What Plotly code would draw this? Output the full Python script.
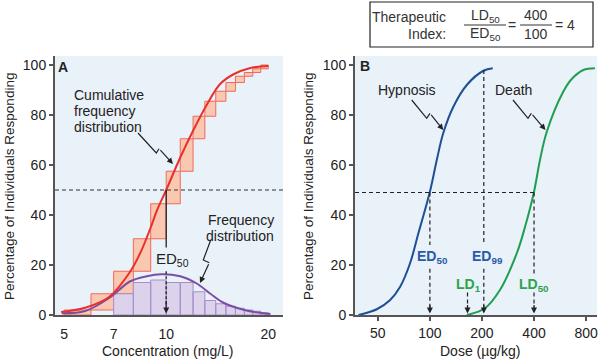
import math
import plotly.graph_objects as go

W, H = 600, 360
FONT = "Liberation Sans, Arial, sans-serif"
BG = "#e9f1f9"
AXC = "#555555"
TXT = "#222222"
RED = "#e8302c"
ORANGE_FILL = "#fac8b0"
ORANGE_LINE = "#ef6a5c"
PURPLE = "#7b4ea3"
PURPLE_FILL = "#ddd2ec"
PURPLE_EDGE = "#a68fcb"
BLUE = "#1f4f94"
BLUE_T = "#2a5aa6"
GREEN = "#1e9f50"
GREEN_T = "#2ea24c"

# ---------------- Panel A data ----------------
pct_ticks = [0, 20, 40, 60, 80, 100]
conc_tickvals = [5, 7, 10, 20]
conc_ticktext = ["5", "7", "10", "20"]
bin_edges = [5, 6, 7, 8, 9, 10, 11, 12, 13, 14, 15, 16, 17, 18, 19, 20]
cum_pct = [2, 8.5, 17.5, 30.5, 44.5, 57.5, 70.5, 79.5, 85.5, 89.5, 93, 95.5, 97, 98.5, 100]
freq_edges = [7, 8, 9, 10, 11, 12, 13, 14, 15, 16, 17, 18, 19, 20]
freq_pct = [8.5, 13, 14, 13, 13, 9.3, 5.8, 4.5, 3.5, 2.7, 2, 1.5, 1]
cum_curve_conc = [4.9, 5.8, 6.8, 7.8, 8.4, 9.0, 9.4, 10, 11, 12, 13.2, 14.4, 15.8, 17.6, 20.0]
cum_curve_pct = [1.2, 3, 7.3, 17, 25, 35, 42, 50, 63, 73.7, 84.3, 92.3, 96.3, 98.7, 99.6]
freq_curve_conc = [4.92, 5.77, 6.79, 7.84, 8.76, 9.67, 11.0, 12.3, 13.5, 14.8, 17.0, 19.3, 20.3]
freq_curve_pct = [0.7, 1.6, 6.8, 13.5, 15.5, 16.3, 15.5, 12.6, 8.5, 4.8, 2.0, 0.7, 0.4]
ed50_conc = 10

# ---------------- Panel B data ----------------
dose_tickvals = [50, 100, 200, 400, 800]
dose_ticktext = ["50", "100", "200", "400", "800"]
hyp_dose = [38.7, 49.3, 58.9, 67.3, 76.8, 85.8, 100, 109.6, 119.4, 136.7, 163.4, 204, 231]
hyp_pct = [0, 2.3, 6, 11.3, 20.7, 32.7, 49.3, 62, 72.7, 83.3, 92, 97.7, 98.7]
death_dose = [163.4, 208, 254, 318, 355, 400, 433, 474, 590, 663, 771, 900]
death_pct = [0, 2.7, 10, 24.7, 35.3, 49.3, 62, 73.3, 89.3, 94.5, 98, 98.7]
ed50_dose, ed99_dose, ld1_dose, ld50_dose = 100, 205, 165, 400
half_level = 49
ed99_top, ld1_top = 98, 9

fig = go.Figure()

# orange cumulative step boxes
xs, ys = [], []
prev = 0
for i in range(len(cum_pct)):
    lo, hi = bin_edges[i], bin_edges[i + 1]
    xs += [lo, hi, hi, lo, lo, None]
    ys += [prev, prev, cum_pct[i], cum_pct[i], prev, None]
    prev = cum_pct[i]
fig.add_trace(go.Scatter(x=xs, y=ys, mode="lines", fill="toself", fillcolor=ORANGE_FILL,
                         line=dict(color=ORANGE_LINE, width=1), xaxis="x", yaxis="y",
                         hoverinfo="skip"))
# purple frequency bars
xs, ys = [], []
for i in range(len(freq_pct)):
    lo, hi = freq_edges[i], freq_edges[i + 1]
    xs += [lo, hi, hi, lo, lo, None]
    ys += [0, 0, freq_pct[i], freq_pct[i], 0, None]
fig.add_trace(go.Scatter(x=xs, y=ys, mode="lines", fill="toself", fillcolor=PURPLE_FILL,
                         line=dict(color=PURPLE_EDGE, width=1), xaxis="x", yaxis="y",
                         hoverinfo="skip"))
# curves A
fig.add_trace(go.Scatter(x=freq_curve_conc, y=freq_curve_pct, mode="lines",
                         line=dict(color=PURPLE, width=2, shape="spline", smoothing=1),
                         xaxis="x", yaxis="y"))
fig.add_trace(go.Scatter(x=cum_curve_conc, y=cum_curve_pct, mode="lines",
                         line=dict(color=RED, width=2, shape="spline", smoothing=1),
                         xaxis="x", yaxis="y"))
# dashed 50% line A
fig.add_trace(go.Scatter(x=[4.70, 22.1], y=[50, 50], mode="lines",
                         line=dict(color="#333", width=1.2, dash="4px,3px"), xaxis="x", yaxis="y"))
# ED50 vertical A
fig.add_trace(go.Scatter(x=[ed50_conc, ed50_conc], y=[50, 27], mode="lines",
                         line=dict(color="#222", width=1.3), xaxis="x", yaxis="y"))
fig.add_trace(go.Scatter(x=[ed50_conc, ed50_conc], y=[17.5, 4], mode="lines",
                         line=dict(color="#222", width=1.3, dash="3px,2px"), xaxis="x", yaxis="y"))

# curves B
fig.add_trace(go.Scatter(x=hyp_dose, y=hyp_pct, mode="lines",
                         line=dict(color=BLUE, width=2, shape="spline", smoothing=1),
                         xaxis="x2", yaxis="y2"))
fig.add_trace(go.Scatter(x=death_dose, y=death_pct, mode="lines",
                         line=dict(color=GREEN, width=2, shape="spline", smoothing=1),
                         xaxis="x2", yaxis="y2"))
dash_b = dict(color="#222", width=1.2, dash="4px,3px")
segs = [
    ([36.9, ld50_dose], [half_level, half_level]),
    ([ed50_dose, ed50_dose], [half_level, 28]),
    ([ed50_dose, ed50_dose], [18.5, 3]),
    ([ed99_dose, ed99_dose], [ed99_top, 28]),
    ([ed99_dose, ed99_dose], [18.5, 3]),
    ([ld1_dose, ld1_dose], [ld1_top, 3]),
    ([ld50_dose, ld50_dose], [half_level, 16.5]),
    ([ld50_dose, ld50_dose], [ld1_top, 3]),
]
for sx, sy in segs:
    fig.add_trace(go.Scatter(x=sx, y=sy, mode="lines", line=dash_b, xaxis="x2", yaxis="y2"))


def P(px, py):
    return px / W, 1 - py / H


ann = []
shapes = []


def text(px, py, s, size=14, color=TXT, xanchor="center", bold=False, bg=None):
    x, y = P(px, py)
    if bold:
        s = "<b>" + s + "</b>"
    d = dict(x=x, y=y, xref="paper", yref="paper", text=s, showarrow=False,
             xanchor=xanchor, yanchor="middle", font=dict(family=FONT, size=size, color=color))
    if bg:
        d["bgcolor"] = bg
    ann.append(d)


def arrow_data(xref, yref, x, y, ax, ay):
    ann.append(dict(x=x, y=y, xref=xref, yref=yref, text="", showarrow=True, ax=ax, ay=ay,
                    arrowhead=2, arrowsize=1, arrowwidth=1.2, arrowcolor="#222", standoff=0))


def pointer(pts):
    (x0, y0), (x1, y1), (x2, y2), (x3, y3) = pts
    a0, b0 = P(x0, y0)
    a1, b1 = P(x1, y1)
    a2, b2 = P(x2, y2)
    shapes.append(dict(type="path", xref="paper", yref="paper",
                       path=f"M {a0},{b0} L {a1},{b1} L {a2},{b2}",
                       line=dict(color="#222", width=1.2)))
    a3, b3 = P(x3, y3)
    ann.append(dict(x=a3, y=b3, xref="paper", yref="paper", text="", showarrow=True,
                    ax=x2 - x3, ay=y2 - y3, arrowhead=2, arrowsize=1, arrowwidth=1.2,
                    arrowcolor="#222", standoff=0))


# arrowheads on vertical lines
arrow_data("x", "y", math.log10(ed50_conc), 0.6, 0, -14)
for d in [ed50_dose, ed99_dose, ld1_dose, ld50_dose]:
    arrow_data("x2", "y2", math.log10(d), 0.6, 0, -10)

# Panel A texts
text(63, 67, "A", size=14, bold=True)
text(72, 95, "Cumulative", xanchor="left")
text(72, 111, "frequency", xanchor="left")
text(72, 127, "distribution", xanchor="left")
text(276, 220, "Frequency", xanchor="right")
text(276, 236, "distribution", xanchor="right")
text(172, 259, "ED<sub>50</sub>", size=15)
pointer([(138, 133), (156.3, 153), (159, 148.7), (173, 164)])
pointer([(210.7, 240), (203.3, 260), (209.3, 262.7), (200, 283)])

# Panel B texts
text(365, 66, "B", size=14, bold=True)
text(407, 90, "Hypnosis")
text(513, 90, "Death")
pointer([(411.7, 100), (426.7, 118.3), (430, 113.3), (443.3, 130)])
pointer([(513, 100), (528, 118.3), (531.3, 113.3), (545.5, 130)])
text(432, 257, "ED<sub>50</sub>", size=14, color=BLUE_T, bold=True)
text(487, 257, "ED<sub>99</sub>", size=14, color=BLUE_T, bold=True)
text(468, 285, "LD<sub>1</sub>", size=14, color=GREEN_T, bold=True)
text(534, 285, "LD<sub>50</sub>", size=14, color=GREEN_T, bold=True)

# axis titles
ann.append(dict(x=9 / W, y=1 - 187 / H, xref="paper", yref="paper", showarrow=False,
                text="Percentage of Individuals Responding", textangle=-90,
                font=dict(family=FONT, size=13.5, color=TXT), xanchor="center", yanchor="middle"))
ann.append(dict(x=308 / W, y=1 - 187 / H, xref="paper", yref="paper", showarrow=False,
                text="Percentage of Individuals Responding", textangle=-90,
                font=dict(family=FONT, size=13.5, color=TXT), xanchor="center", yanchor="middle"))
text(168, 351, "Concentration (mg/L)", size=14)
text(480, 350.5, "Dose (µg/kg)", size=14)

# Therapeutic index box
x0, y0 = P(370, 2)
x1, y1 = P(593, 47)
shapes.append(dict(type="rect", xref="paper", yref="paper", x0=x0, y0=y1, x1=x1, y1=y0,
                   line=dict(color="#222", width=1.2), fillcolor="white"))
text(448, 17, "Therapeutic", xanchor="right", color="#333")
text(448, 34, "Index:", xanchor="right", color="#333")
text(485, 16, "LD<sub>50</sub>", color="#333")
text(485, 34, "ED<sub>50</sub>", color="#333")
for (a, b) in [(464, 506), (520, 552)]:
    u0, v0 = P(a, 25)
    u1, v1 = P(b, 25)
    shapes.append(dict(type="line", xref="paper", yref="paper", x0=u0, y0=v0, x1=u1, y1=v1,
                       line=dict(color="#333", width=1)))
text(512, 25, "=", color="#333")
text(536, 15, "400", color="#333")
text(536, 34, "100", color="#333")
text(565, 25, "= 4", color="#333")

ydom = [45 / H, 304 / H]
common_y = dict(range=[0, 103.6], tickvals=pct_ticks, ticks="outside", ticklen=4, tickwidth=1.5,
                tickcolor=AXC, showline=True, linecolor=AXC, linewidth=2, showgrid=False,
                zeroline=False, tickfont=dict(family=FONT, size=14, color=TXT), fixedrange=True,
                automargin=False)
fig.update_layout(
    template="none",
    width=W, height=H, autosize=False,
    margin=dict(l=0, r=0, t=0, b=0, pad=0),
    paper_bgcolor="white", plot_bgcolor=BG, showlegend=False,
    font=dict(family=FONT, color=TXT),
    xaxis=dict(domain=[55 / W, 283 / W], type="log",
               range=[math.log10(4.70), math.log10(22.1)],
               tickvals=conc_tickvals, ticktext=conc_ticktext, ticks="", showline=True,
               linecolor=AXC, linewidth=2, showgrid=False, zeroline=False, anchor="y",
               automargin=False,
               ticklabelstandoff=5, tickfont=dict(family=FONT, size=14, color=TXT)),
    yaxis=dict(domain=ydom, anchor="x", **common_y),
    xaxis2=dict(domain=[355 / W, 597 / W], type="log",
                range=[math.log10(36.9), math.log10(925)],
                tickvals=dose_tickvals, ticktext=dose_ticktext, ticks="outside", ticklen=4,
                tickwidth=1.5, tickcolor=AXC, showline=True, linecolor=AXC, linewidth=2,
                showgrid=False, zeroline=False, anchor="y2", automargin=False,
                tickfont=dict(family=FONT, size=14, color=TXT)),
    yaxis2=dict(domain=ydom, anchor="x2", **common_y),
    annotations=ann, shapes=shapes,
)
fig.write_html("out.html", config={"displayModeBar": False},
               post_script="document.body.style.margin='0px';document.body.style.overflow='hidden';")
